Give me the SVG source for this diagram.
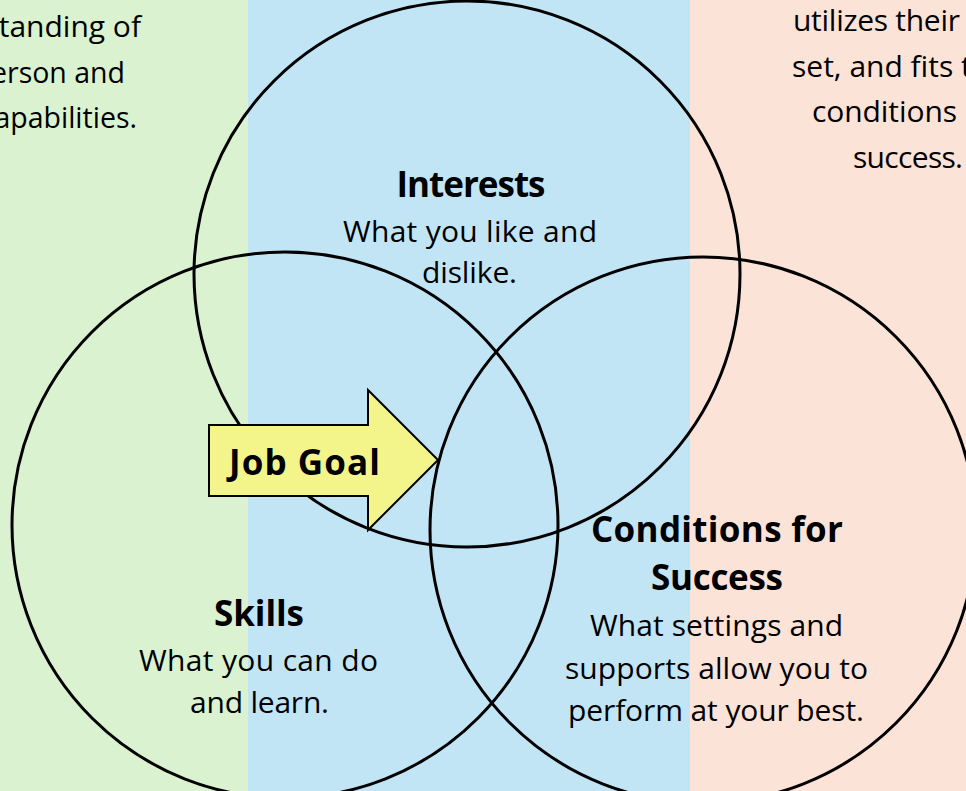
<svg xmlns="http://www.w3.org/2000/svg" width="966" height="791" viewBox="0 0 966 791">
<style>
.c{fill:none;stroke:#000;stroke-width:3}
.t{font-family:"Open Sans","Noto Sans",sans-serif;font-size:30px;fill:#000}
.b{font-family:"Open Sans","Noto Sans",sans-serif;font-size:35px;font-weight:bold;fill:#000}
.s{font-size:28.5px}
</style>
<g id="background">
<rect x="0" y="0" width="248" height="791" fill="#daf2d0"/>
<rect x="248" y="0" width="442" height="791" fill="#c2e5f6"/>
<rect x="690" y="0" width="276" height="791" fill="#fce3d7"/>
</g>
<g id="side-texts">
<text class="t" text-anchor="end" x="141" y="37">tanding of</text>
<text class="t s" text-anchor="end" x="125" y="83">erson and</text>
<text class="t s" text-anchor="end" x="137" y="128">apabilities.</text>
<text class="t" x="793" y="31" textLength="167">utilizes their</text>
<text class="t" x="792" y="77">set, and fits t</text>
<text class="t" x="812" y="122" textLength="145">conditions</text>
<text class="t" x="853" y="168" textLength="110">success.</text>
</g>
<g id="interests">
<circle class="c" cx="467" cy="274" r="273"/>
<text class="b" text-anchor="middle" x="471" y="197" textLength="149">Interests</text>
<text class="t" text-anchor="middle" x="470" y="242" textLength="254">What you like and</text>
<text class="t" text-anchor="middle" x="469.5" y="283" textLength="95">dislike.</text>
</g>
<g id="skills">
<circle class="c" cx="285" cy="525" r="273"/>
<text class="b" text-anchor="middle" x="259" y="626" textLength="90">Skills</text>
<text class="t" text-anchor="middle" x="258.5" y="671" textLength="239">What you can do</text>
<text class="t" text-anchor="middle" x="259.5" y="713" textLength="139">and learn.</text>
</g>
<g id="conditions">
<circle class="c" cx="703" cy="530" r="273"/>
<text class="b" text-anchor="middle" x="717" y="542" textLength="252">Conditions for</text>
<text class="b" text-anchor="middle" x="717" y="590" textLength="132">Success</text>
<text class="t" text-anchor="middle" x="716.5" y="636" textLength="253">What settings and</text>
<text class="t" text-anchor="middle" x="716.5" y="679" textLength="303">supports allow you to</text>
<text class="t" text-anchor="middle" x="716" y="721" textLength="296">perform at your best.</text>
</g>
<g id="job-goal">
<path d="M209,425 H368 V390 L438,460 L368,530 V496 H209 Z" fill="#f3f58a" stroke="#000" stroke-width="2" stroke-linejoin="miter"/>
<text class="b" x="229" y="475" font-size="37" textLength="151">Job Goal</text>
</g>
</svg>
